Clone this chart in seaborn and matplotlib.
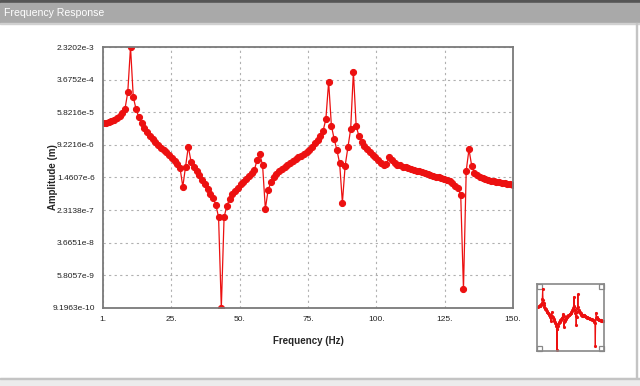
import numpy as np
import pandas as pd
import seaborn as sns
import matplotlib.pyplot as plt
from matplotlib.patches import Rectangle

# frequencies (Hz), one point per Hz
freq = np.arange(1, 151)

# log10 of amplitude (m)
amp_log10 = [
    -4.506, -4.499, -4.481, -4.457, -4.425, -4.383, -4.327, -4.246, -4.148, -3.746,
    -2.6345, -3.861, -4.155, -4.359, -4.506, -4.629, -4.727, -4.810, -4.891, -4.965,
    -5.038, -5.100, -5.161, -5.222, -5.284, -5.345, -5.423, -5.504, -5.602, -6.061,
    -5.570, -5.080, -5.448, -5.590, -5.688, -5.786, -5.885, -6.007, -6.117, -6.228,
    -6.350, -6.498, -6.812, -9.0364, -6.812, -6.527, -6.370, -6.240, -6.159, -6.093,
    -6.007, -5.934, -5.860, -5.799, -5.732, -5.651, -5.406, -5.259, -5.541, -6.608,
    -6.142, -5.958, -5.835, -5.750, -5.676, -5.615, -5.566, -5.517, -5.468, -5.431,
    -5.382, -5.340, -5.296, -5.247, -5.203, -5.149, -5.087, -5.001, -4.916, -4.817,
    -4.688, -4.401, -3.486, -4.565, -4.891, -5.161, -5.487, -6.454, -5.546, -5.095,
    -4.653, -3.240, -4.572, -4.817, -4.957, -5.063, -5.144, -5.217, -5.284, -5.340,
    -5.406, -5.472, -5.541, -5.504, -5.333, -5.418, -5.468, -5.517, -5.541, -5.566,
    -5.585, -5.607, -5.627, -5.647, -5.664, -5.683, -5.705, -5.725, -5.750, -5.774,
    -5.794, -5.811, -5.831, -5.848, -5.872, -5.897, -5.926, -5.970, -6.032, -6.105,
    -6.265, -8.578, -5.669, -5.144, -5.553, -5.718, -5.774, -5.816, -5.848, -5.872,
    -5.897, -5.916, -5.929, -5.938, -5.951, -5.963, -5.975, -5.988, -6.000, -6.012,
]

x_tick_labels = ['1.', '25.', '50.', '75.', '100.', '125.', '150.']
y_tick_labels = ['9.1963e-10', '5.8057e-9', '3.6651e-8', '2.3138e-7', '1.4607e-6',
                 '9.2216e-6', '5.8216e-5', '3.6752e-4', '2.3202e-3']

df = pd.DataFrame({'freq': freq, 'amp': 10.0 ** np.array(amp_log10)})

red = '#ec1010'
sns.set_style('white')
plt.rcParams['font.family'] = ['Liberation Sans', 'DejaVu Sans']

fig = plt.figure(figsize=(6.4, 3.86), dpi=100)
W, H = 640, 386

def fig_rect(x, y, w, h, **kw):
    # rectangle in pixel coords (origin top-left)
    fig.patches.append(Rectangle((x / W, 1 - (y + h) / H), w / W, h / H,
                                 transform=fig.transFigure, **kw))

# title bar and frame
fig_rect(0, 0, 640, 3, color='#555555')
fig_rect(0, 3, 640, 20, color='#a9a9a9')
fig_rect(0, 23, 640, 1, color='#d0d0d0')
fig_rect(0, 378, 640, 8, color='#ececec')
fig_rect(0, 378, 640, 1, color='#c4c4c4')
fig_rect(636, 23, 1, 355, color='#c4c4c4')
fig.text(4 / W, 1 - 13.5 / H, 'Frequency Response', color='white', fontsize=7.6,
         va='center', ha='left')

ax = fig.add_axes([103 / W, 1 - 308 / H, 410 / W, 261 / H])
sns.lineplot(data=df, x='freq', y='amp', ax=ax, color=red, marker='o',
             markersize=4.4, markeredgecolor=red, linewidth=0.9)
ax.set_yscale('log')
lo, hi = df['amp'].min(), df['amp'].max()
ax.set_ylim(lo, hi)
ax.set_xlim(1, 150)
ax.set_xticks(np.linspace(1, 150, 7))
ax.set_xticklabels(x_tick_labels)
ax.set_yticks(np.logspace(np.log10(lo), np.log10(hi), 9))
ax.set_yticklabels(y_tick_labels)
ax.minorticks_off()
ax.tick_params(length=0, labelsize=6, pad=6, colors='#222222')
ax.grid(True, linestyle=(0, (2, 3)), color='#b0b0b0', linewidth=0.8)
ax.set_xlabel('Frequency (Hz)', fontsize=7, fontweight='bold')
ax.set_ylabel('Amplitude (m)', fontsize=7, fontweight='bold')
ax.xaxis.set_label_coords(0.5, -0.107)
ax.yaxis.set_label_coords(-0.11, 0.5)
for s in ax.spines.values():
    s.set_color('#7a7a7a')
    s.set_linewidth(1.3)

# thumbnail overview
ins = fig.add_axes([537 / W, 1 - 351 / H, 67 / W, 67 / H])
sns.lineplot(data=df, x='freq', y='amp', ax=ins, color=red, marker='o',
             markersize=1.5, markeredgecolor=red, linewidth=0.8)
ins.set_yscale('log')
ins.set_ylim(lo * 0.8, hi * 3)
ins.set_xlim(-2, 152)
ins.set_xticks([])
ins.set_yticks([])
ins.minorticks_off()
ins.set_xlabel('')
ins.set_ylabel('')
for s in ins.spines.values():
    s.set_color('#888888')
    s.set_linewidth(1.2)
for cx, cy in [(0, 0), (1, 0), (0, 1), (1, 1)]:
    sz = 0.08
    ins.add_patch(Rectangle((cx - sz if cx else 0, cy - sz if cy else 0), sz, sz,
                            transform=ins.transAxes, fill=False,
                            edgecolor='#888888', linewidth=0.9, clip_on=False))

fig.savefig('out.png', dpi=100, facecolor='white')
